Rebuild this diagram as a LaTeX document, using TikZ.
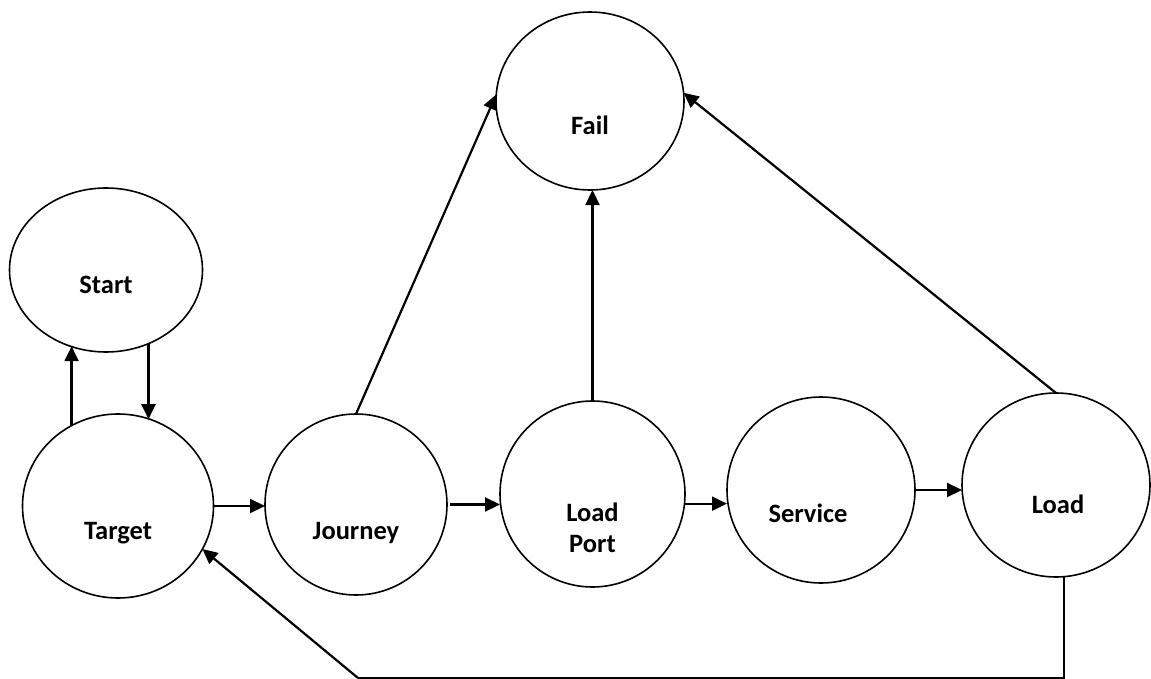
\documentclass[tikz,border=0pt]{standalone}
\usepackage{fontspec}
\setmainfont{Carlito}
\usetikzlibrary{shapes.geometric,arrows.meta,calc}

\tikzset{
  state/.style={ellipse, draw, line width=1.6bp, inner sep=0pt, outer sep=0pt},
  lbl/.style={font=\fontsize{26.5bp}{31bp}\selectfont\bfseries, inner sep=0pt, align=center},
  arr/.style={line width=2.2bp, -{Triangle[length=15bp,width=14bp]}},
  wire/.style={line width=2bp}
}

\begin{document}
\begin{tikzpicture}[x=1bp, y=-1bp]
  \useasboundingbox (0,0) rectangle (1151,679);

  % states
  \node[state, minimum width=193bp, minimum height=164bp] (start)    at (106,270)   {};
  \node[state, minimum width=191bp, minimum height=184bp] (target)   at (118,506)   {};
  \node[state, minimum width=182bp, minimum height=181bp] (journey)  at (356,504.5) {};
  \node[state, minimum width=185bp, minimum height=186bp] (loadport) at (592.5,494) {};
  \node[state, minimum width=188bp, minimum height=186bp] (service)  at (821,490)   {};
  \node[state, minimum width=188bp, minimum height=184bp] (load)     at (1056,485)  {};
  \node[state, minimum width=188bp, minimum height=178bp] (fail)     at (590,101)   {};

  % state names, set a little below each centre
  \node[lbl, anchor=base] (start-t)    at ($(start.center)+(0,23)$)    {Start};
  \node[lbl, anchor=base] (target-t)   at ($(target.center)+(0,33)$)   {Target};
  \node[lbl, anchor=base] (journey-t)  at ($(journey.center)+(0,34.5)$) {Journey};
  \node[lbl]              (loadport-t) at ($(loadport.center)+(0,34)$) {Load\\Port};
  \node[lbl, anchor=base] (service-t)  at ($(service.center)+(-13,32)$) {Service};
  \node[lbl, anchor=base] (load-t)     at ($(load.center)+(2,28)$)     {Load};
  \node[lbl, anchor=base] (fail-t)     at ($(fail.center)+(0,34)$)     {Fail};

  % transitions
  \draw[arr] (target.120) -- (target.120 |- start.245);
  \draw[arr] (start.-60) -- (start.-60 |- target.70);
  \draw[arr] (target.east) -- (target.east -| journey.west);
  \draw[arr] ($(journey.east)+(3,0)$) -- (journey.east -| loadport.west);
  \draw[arr] (loadport.-6) -- (loadport.-6 -| service.west);
  \draw[arr] (service.east) -- (service.east -| load.west);
  \draw[arr] (journey.north) -- (fail.176);
  \draw[arr] (loadport.north) -- (loadport.north |- fail.south);
  \draw[arr] (load.north) -- (fail.5);

  % return path from Load back to Target
  \coordinate (turn) at (358,678);
  \draw[wire] (load.-85) -- (load.-85 |- turn) -- (turn);
  \draw[arr] (turn) -- (target.-27);
\end{tikzpicture}
\end{document}
